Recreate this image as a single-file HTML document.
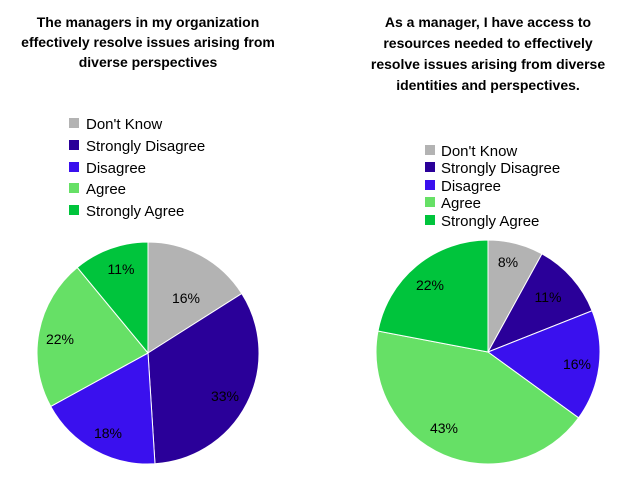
<!DOCTYPE html>
<html><head><style>
body{margin:0;background:#fff;width:640px;height:483px;overflow:hidden;font-family:"Liberation Sans",sans-serif}
</style></head><body>
<svg id="s" width="640" height="483" xmlns="http://www.w3.org/2000/svg" font-family="Liberation Sans, sans-serif">
<g font-weight="bold" font-size="14" text-anchor="middle" fill="#000">
<text x="148" y="27">The managers in my organization</text>
<text x="148" y="47">effectively resolve issues arising from</text>
<text x="148" y="67">diverse perspectives</text>
<text x="488" y="27">As a manager, I  have access to</text>
<text x="488" y="48">resources needed to effectively</text>
<text x="488" y="69">resolve issues arising from diverse</text>
<text x="488" y="90">identities and perspectives.</text>
</g>
<g font-size="15" fill="#000">
<rect x="69" y="118" width="10" height="10" fill="#b3b3b3"/><text x="86" y="129">Don't Know</text>
<rect x="69" y="140" width="10" height="10" fill="#2a0099"/><text x="86" y="151">Strongly Disagree</text>
<rect x="69" y="162" width="10" height="10" fill="#3a10ee"/><text x="86" y="173">Disagree</text>
<rect x="69" y="183" width="10" height="10" fill="#66e066"/><text x="86" y="194">Agree</text>
<rect x="69" y="205" width="10" height="10" fill="#00c43c"/><text x="86" y="216">Strongly Agree</text>
<rect x="425" y="145" width="10" height="10" fill="#b3b3b3"/><text x="441" y="156">Don't Know</text>
<rect x="425" y="162" width="10" height="10" fill="#2a0099"/><text x="441" y="173">Strongly Disagree</text>
<rect x="425" y="180" width="10" height="10" fill="#3a10ee"/><text x="441" y="191">Disagree</text>
<rect x="425" y="197" width="10" height="10" fill="#66e066"/><text x="441" y="208">Agree</text>
<rect x="425" y="215" width="10" height="10" fill="#00c43c"/><text x="441" y="226">Strongly Agree</text>
</g>
<g id="pies"></g>
<g font-size="14" fill="#000" text-anchor="middle">
<text x="186" y="303">16%</text><text x="225" y="401">33%</text><text x="108" y="438">18%</text><text x="60" y="344">22%</text><text x="121" y="274">11%</text>
<text x="508" y="267">8%</text><text x="548" y="302">11%</text><text x="577" y="369">16%</text><text x="444" y="433">43%</text><text x="430" y="290">22%</text>
</g>
</svg>
<script>
var cols=["#b3b3b3","#2a0099","#3a10ee","#66e066","#00c43c"];
function pie(cx,cy,r,v){var a=0,out="";for(var i=0;i<v.length;i++){var a0=a;a+=v[i]/100*2*Math.PI;
var x0=cx+r*Math.sin(a0),y0=cy-r*Math.cos(a0),x1=cx+r*Math.sin(a),y1=cy-r*Math.cos(a);
out+='<path d="M'+cx+','+cy+'L'+x0+','+y0+'A'+r+','+r+' 0 '+(a-a0>Math.PI?1:0)+' 1 '+x1+','+y1+'Z" fill="'+cols[i]+'" stroke="#fff" stroke-width="1"/>';}
return out;}
document.getElementById("pies").innerHTML=pie(148,353,111,[16,33,18,22,11])+pie(488,352,112,[8,11,16,43,22]);
</script>
</body></html>
